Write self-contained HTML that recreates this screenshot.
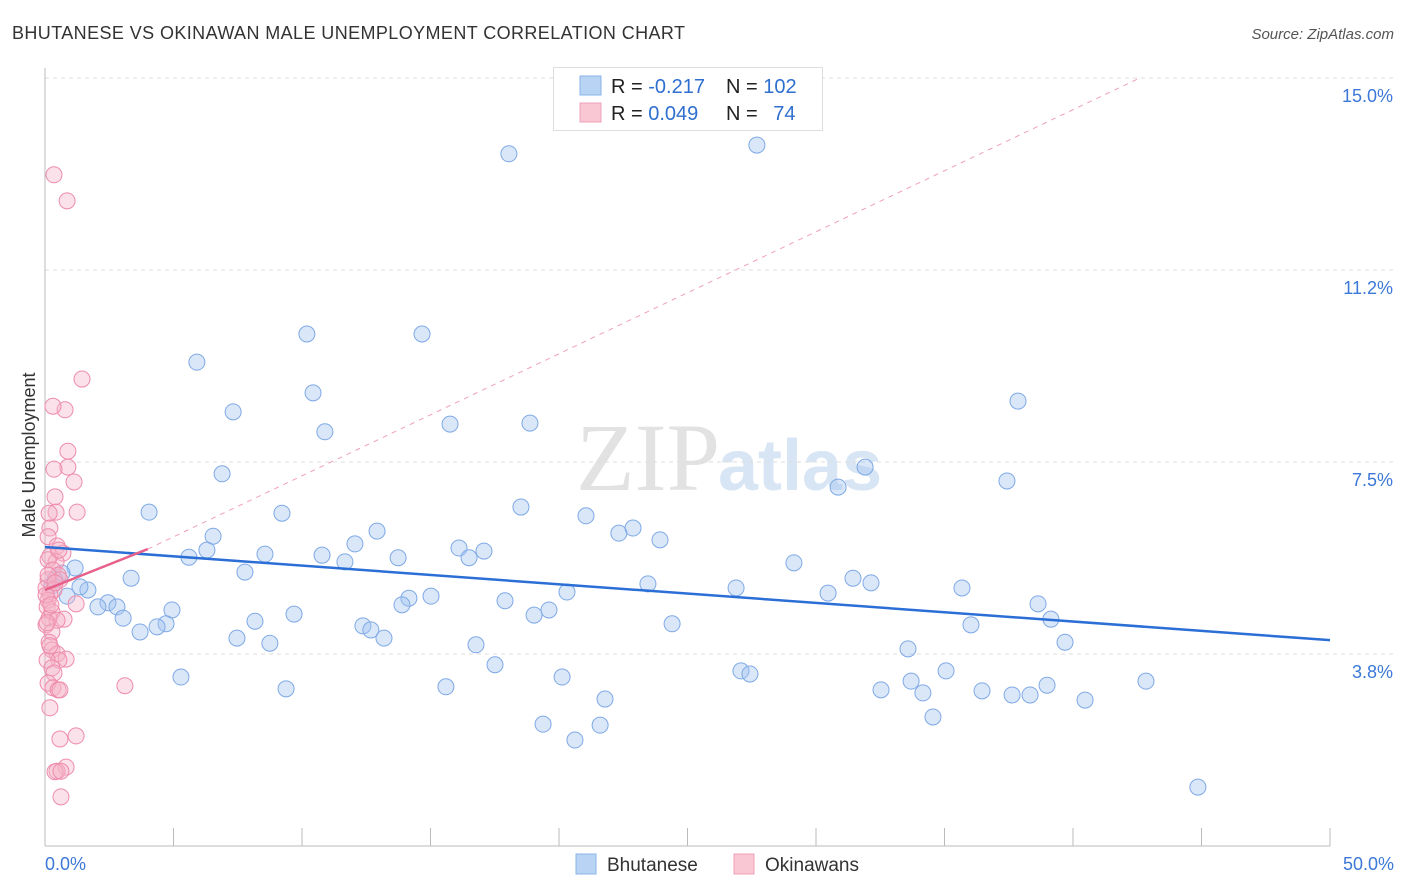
<!DOCTYPE html>
<html><head><meta charset="utf-8"><style>
body{margin:0;background:#fff;font-family:"Liberation Sans",sans-serif;}
svg{display:block}
</style></head><body>
<svg id="chart" width="1406" height="892" xmlns="http://www.w3.org/2000/svg">
<text x="12" y="39" font-size="18" fill="#333" textLength="673">BHUTANESE VS OKINAWAN MALE UNEMPLOYMENT CORRELATION CHART</text>
<text x="1394" y="39" font-size="15" fill="#555" font-style="italic" text-anchor="end">Source: ZipAtlas.com</text>
<text x="720" y="490" font-size="96" fill="#e2e2e2" text-anchor="end" font-family="Liberation Serif,serif">ZIP</text>
<text x="718" y="490" font-size="72" fill="#d8e5f5" font-weight="bold">atlas</text>
<g id="grid"></g><g id="axes"></g><g id="marks"></g>
<text x="35" y="455" font-size="18" fill="#333" transform="rotate(-90 35 455)" text-anchor="middle">Male Unemployment</text>
<g>
<rect x="553.5" y="67.5" width="269" height="63" fill="#fff" stroke="#ddd"/>
<rect x="580" y="76" width="21" height="19" fill="#b8d3f4" stroke="#8ab4ea"/>
<rect x="580" y="103" width="21" height="19" fill="#f9c6d4" stroke="#f0a0ba"/>
<text x="611" y="93" font-size="20" fill="#222">R = <tspan fill="#2f6fd0">-0.217</tspan></text>
<text x="726" y="93" font-size="20" fill="#222">N = <tspan fill="#2f6fd0">102</tspan></text>
<text x="611" y="120" font-size="20" fill="#222">R = <tspan fill="#2f6fd0">0.049</tspan></text>
<text x="726" y="120" font-size="20" fill="#222">N = <tspan fill="#2f6fd0" dx="10">74</tspan></text>
</g>
<g>
<rect x="576" y="854" width="20" height="20" fill="#b8d3f4" stroke="#8ab4ea"/>
<text x="607" y="871" font-size="19" fill="#333">Bhutanese</text>
<rect x="734" y="854" width="20" height="20" fill="#f9c6d4" stroke="#f0a0ba"/>
<text x="765" y="871" font-size="19" fill="#333">Okinawans</text>
</g>
</svg>
<script>
const yTicks=[3.75,7.5,11.25,15];
const yTickLabels=["3.8%","7.5%","11.2%","15.0%"];
const xTicks=[0,5,10,15,20,25,30,35,40,45,50];
const blueX=[18.05,27.7,10.19,14.67,5.91,10.43,7.32,37.86,10.89,15.76,18.87,6.89,31.91,30.86,37.43,4.05,9.22,18.52,21.05,6.54,22.33,22.88,23.93,12.92,12.06,16.11,17.08,6.30,5.60,8.56,10.78,11.67,13.74,16.50,29.14,7.78,3.35,31.44,32.14,23.46,26.89,35.68,20.31,30.47,15.02,14.16,13.89,17.90,19.61,19.03,38.64,39.14,9.69,4.94,8.17,2.45,2.80,2.06,3.04,4.71,4.36,3.70,12.37,12.68,13.19,7.47,8.75,16.77,24.40,36.03,39.69,33.58,17.51,27.08,27.43,35.06,5.29,20.12,42.84,15.60,9.38,33.70,38.99,32.53,34.16,36.46,37.63,38.33,21.79,40.47,34.55,19.38,21.60,20.62,44.86,1.17,0.39,0.66,1.67,1.36,0.86,0.27];
const blueY=[13.52,13.69,10.0,10.0,9.45,8.85,8.48,8.69,8.09,8.24,8.26,7.27,7.40,7.01,7.13,6.52,6.50,6.62,6.45,6.05,6.11,6.21,5.98,6.15,5.90,5.82,5.76,5.78,5.64,5.70,5.68,5.55,5.63,5.63,5.53,5.35,5.23,5.23,5.14,5.12,5.04,5.04,4.96,4.94,4.88,4.84,4.71,4.79,4.61,4.51,4.73,4.43,4.53,4.61,4.39,4.75,4.67,4.67,4.45,4.34,4.28,4.18,4.30,4.22,4.06,4.06,3.96,3.93,4.34,4.32,3.98,3.85,3.54,3.42,3.36,3.42,3.30,3.30,3.22,3.11,3.07,3.22,3.14,3.05,2.99,3.03,2.95,2.95,2.87,2.85,2.52,2.38,2.36,2.07,1.15,5.43,5.21,5.33,5.00,5.06,4.88,5.08];
const pinkX=[0.35,0.86,1.44,0.78,0.31,0.89,0.89,0.35,1.13,0.39,1.25,0.43,0.16,0.19,0.12,0.47,0.70,0.19,0.43,0.12,0.31,0.51,0.58,0.12,0.04,0.35,0.19,1.21,0.12,0.08,0.27,0.16,0.74,0.47,0.04,0.27,0.16,0.27,0.47,0.82,0.54,0.08,0.27,0.35,0.12,0.31,0.51,3.11,0.58,0.19,0.58,1.21,0.82,0.47,0.39,0.62,0.62,0.08,0.19,0.12,0.39,0.54,0.04,0.23];
const pinkY=[13.11,12.60,9.12,8.52,8.59,7.71,7.40,7.36,7.11,6.82,6.52,6.52,6.50,6.21,6.04,5.86,5.72,5.66,5.55,5.59,5.39,5.29,5.20,5.20,5.04,5.00,4.92,4.73,4.80,4.67,4.57,4.45,4.43,4.41,4.32,4.18,3.98,3.83,3.75,3.65,3.63,3.63,3.48,3.38,3.18,3.09,3.05,3.13,3.05,2.70,2.09,2.15,1.54,1.46,1.45,1.46,0.96,4.36,3.91,5.29,5.14,5.78,4.90,4.71];
const blueTrend=[5.84,4.02];
const pinkTrend=[5.0,5.8];
const pinkDash=[[4,5.8],[42.6,15]];
const NS='http://www.w3.org/2000/svg';
const X=v=>45+v*25.7, Y=v=>846-v*51.2;
function mk(tag,attrs,parent){const e=document.createElementNS(NS,tag);for(const k in attrs)e.setAttribute(k,attrs[k]);parent.appendChild(e);return e;}
const grid=document.getElementById('grid'),axes=document.getElementById('axes'),marks=document.getElementById('marks');
yTicks.forEach((t,i)=>{
 const l=mk('line',{x1:45,x2:1394,y1:Y(t),y2:Y(t),stroke:'#ddd','stroke-dasharray':'4,4'},grid);
 
 
 const tx=mk('text',{x:1393,y:Y(t)+24,'font-size':18,fill:'#3b78d8','text-anchor':'end'},axes);
 tx.textContent=yTickLabels[i];
 
 
});
const ax=mk('line',{x1:45,x2:1330,y1:846,y2:846,stroke:'#bbb'},axes);


const ay=mk('line',{x1:45,x2:45,y1:68,y2:846,stroke:'#bbb'},axes);


xTicks.forEach(t=>{const l=mk('line',{x1:X(t),x2:X(t),y1:828,y2:846,stroke:'#bbb'},axes);
 
 });
[[0,'0.0%','start',45],[50,'50.0%','end',1394]].forEach(a=>{const t=mk('text',{x:a[3],y:870,'font-size':18,fill:'#3b78d8','text-anchor':a[2]},axes);t.textContent=a[1];
 
 });
const dl=mk('line',{x1:X(pinkDash[0][0]),y1:Y(pinkDash[0][1]),x2:X(pinkDash[1][0]),y2:Y(pinkDash[1][1]),stroke:'#f0a0ba','stroke-dasharray':'5,5','stroke-width':1},marks);


blueX.forEach((x,i)=>{const c=mk('circle',{cx:X(x),cy:Y(blueY[i]),r:8,fill:'rgba(160,196,240,0.4)',stroke:'#7fa9e6','stroke-width':1},marks);
 
 });
pinkX.forEach((x,i)=>{const c=mk('circle',{cx:X(x),cy:Y(pinkY[i]),r:8,fill:'rgba(245,180,200,0.4)',stroke:'#ee8cac','stroke-width':1},marks);
 
 });
const bt=mk('line',{x1:X(0),y1:Y(blueTrend[0]),x2:X(50),y2:Y(blueTrend[1]),stroke:'#2b6fd6','stroke-width':2.5},marks);


const pt=mk('line',{x1:X(0),y1:Y(pinkTrend[0]),x2:X(4),y2:Y(pinkTrend[1]),stroke:'#e8608a','stroke-width':2.5},marks);


</script>
</body></html>
